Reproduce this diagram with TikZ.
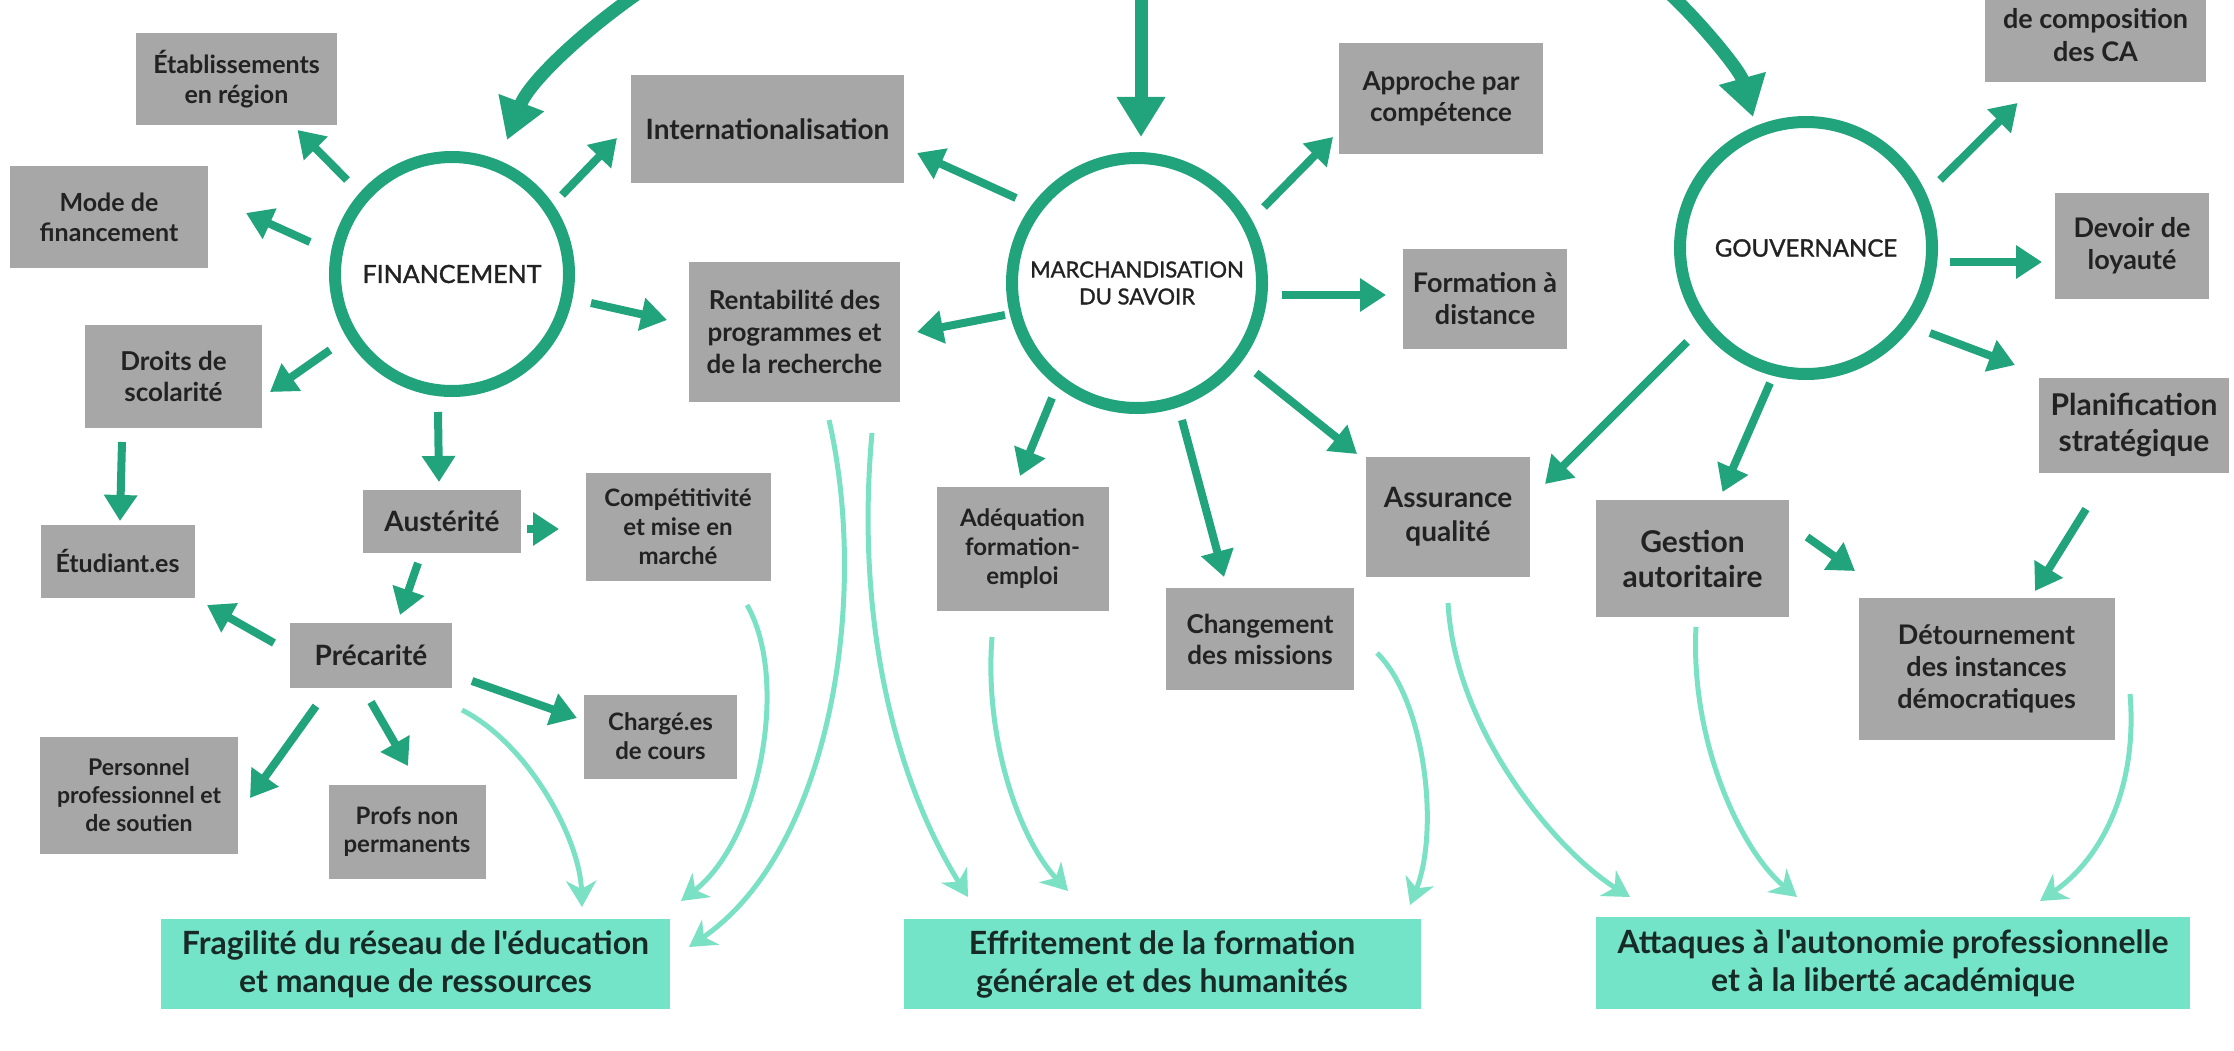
\documentclass[tikz,border=0pt]{standalone}
\usepackage{fontspec}
\setmainfont{Lato}[Ligatures=TeXOff]
\newfontfamily\ringfont{Lato}[Ligatures=TeXOff,FakeBold=1.3]
\usetikzlibrary{arrows.meta,calc}
\definecolor{dgreen}{HTML}{21A37B}
\definecolor{lgreen}{HTML}{7AE1C4}
\definecolor{boxgray}{HTML}{A7A7A7}
\definecolor{botfill}{HTML}{74E4C8}
\definecolor{txt}{HTML}{222222}
\definecolor{bottxt}{HTML}{182A26}
\newcommand\fz[2]{\fontsize{#1}{#2}\selectfont}
\tikzset{
  gbox/.style={fill=boxgray, inner sep=0pt, align=center, text=txt},
  botbox/.style={fill=botfill, inner sep=0pt, align=center, text=bottxt, font=\bfseries\fz{32}{38}},
  ring/.style={circle, draw=dgreen, line width=12pt, inner sep=0pt, align=center, text=txt},
  darr/.style={draw=dgreen, line width=8pt, -{Triangle[length=26pt,width=32pt]}},
  bigarr/.style={draw=dgreen, line width=13pt, -{Triangle[length=40pt,width=46pt]}},
  larr/.style={draw=lgreen, line width=5pt, -{Stealth[length=26pt,width=30pt,inset=8pt]}}
}
\begin{document}
\begin{tikzpicture}[x=1pt,y=-1pt]
\useasboundingbox (0,0) rectangle (2234,1051);
\fill[white] (0,0) rectangle (2234,1051);
\clip (0,0) rectangle (2234,1051);

% circles
\node[ring, minimum size=234pt, font=\ringfont\fz{25}{29}] (fin) at (452,274) {FINANCEMENT};
\node[ring, minimum size=250pt, font=\ringfont\fz{22}{27}] (march) at (1137,283) {MARCHANDISATION\\DU SAVOIR};
\node[ring, minimum size=252pt, font=\ringfont\fz{24}{28}] (gouv) at (1806,248) {GOUVERNANCE};

% gray boxes
\node[gbox, minimum width=201pt, minimum height=92pt, font=\bfseries\fz{25}{30}] (etab) at (236.5,79) {Établissements\\en région};
\node[gbox, minimum width=198pt, minimum height=102pt, font=\bfseries\fz{25}{30}] (mode) at (109,217) {Mode de\\financement};
\node[gbox, minimum width=177pt, minimum height=103pt, font=\bfseries\fz{26}{31}] (droits) at (173.5,376) {Droits de\\scolarité};
\node[gbox, minimum width=273pt, minimum height=108pt, font=\bfseries\fz{28}{34}] (intl) at (767.5,129) {Internationalisation};
\node[gbox, minimum width=211pt, minimum height=140pt, font=\bfseries\fz{26}{32}] (rent) at (794.5,331.5) {Rentabilité des\\programmes et\\de la recherche};
\node[gbox, minimum width=204pt, minimum height=111pt, font=\bfseries\fz{26}{31}] (appr) at (1441,98.5) {Approche par\\compétence};
\node[gbox, minimum width=164pt, minimum height=100pt, font=\bfseries\fz{27}{32}] (fdist) at (1485,299) {Formation à\\distance};
\node[gbox, minimum width=221pt, minimum height=94pt, font=\bfseries\fz{27}{33}] (ca) at (2095.5,35) {de composition\\des CA};
\node[gbox, minimum width=154pt, minimum height=105pt, font=\bfseries\fz{27}{32}] (dev) at (2132,246) {Devoir de\\loyauté};
\node[gbox, minimum width=190pt, minimum height=95pt, font=\bfseries\fz{30}{36}] (plan) at (2134,425) {Planification\\stratégique};
\node[gbox, minimum width=154pt, minimum height=73pt, font=\bfseries\fz{25}{30}] (etu) at (117.5,561) {Étudiant.es};
\node[gbox, minimum width=158pt, minimum height=63pt, font=\bfseries\fz{28}{34}] (aust) at (442,521) {Austérité};
\node[gbox, minimum width=185pt, minimum height=108pt, font=\bfseries\fz{24}{29}] (comp) at (678,527) {Compétitivité\\et mise en\\marché};
\node[gbox, minimum width=162pt, minimum height=65pt, font=\bfseries\fz{28}{34}] (prec) at (371,655) {Précarité};
\node[gbox, minimum width=153pt, minimum height=84pt, font=\bfseries\fz{24}{29}] (charg) at (660.5,736.5) {Chargé.es\\de cours};
\node[gbox, minimum width=198pt, minimum height=117pt, font=\bfseries\fz{23}{28}] (pers) at (139,795) {Personnel\\professionnel et\\de soutien};
\node[gbox, minimum width=157pt, minimum height=94pt, font=\bfseries\fz{24}{28}] (profs) at (407,831.5) {Profs non\\permanents};
\node[gbox, minimum width=172pt, minimum height=124pt, font=\bfseries\fz{24}{29}] (adeq) at (1022.5,548.5) {Adéquation\\formation-\\emploi};
\node[gbox, minimum width=188pt, minimum height=102pt, font=\bfseries\fz{26}{31}] (chang) at (1260,639) {Changement\\des missions};
\node[gbox, minimum width=164pt, minimum height=120pt, font=\bfseries\fz{28}{34}] (assur) at (1448,516.5) {Assurance\\qualité};
\node[gbox, minimum width=193pt, minimum height=117pt, font=\bfseries\fz{30}{35}] (gest) at (1692.5,558.5) {Gestion\\autoritaire};
\node[gbox, minimum width=256pt, minimum height=142pt, font=\bfseries\fz{27}{32}] (detour) at (1986.5,669) {Détournement\\des instances\\démocratiques};

% bottom boxes
\node[botbox, minimum width=509pt, minimum height=90pt] (frag) at (415.5,964) {Fragilité du réseau de l'éducation\\et manque de ressources};
\node[botbox, minimum width=517pt, minimum height=90pt] (effr) at (1162,964) {Effritement de la formation\\générale et des humanités};
\node[botbox, minimum width=594pt, minimum height=92pt] (attq) at (1893,963) {Attaques à l'autonomie professionnelle\\et à la liberté académique};

% big incoming arrows (free ends above the picture)
\coordinate (srcA) at (650,-15);
\coordinate (srcB) at (1141,-10);
\coordinate (srcC) at (1660,-15);
\draw[bigarr] (srcA) .. controls (590,25) and (530,80) .. ($(fin)+(55,-134)$);
\draw[bigarr] (srcB) -- ($(march)+(4,-146)$);
\draw[bigarr] (srcC) .. controls (1695,15) and (1740,70) .. ($(gouv)+(-53,-131)$);

% FINANCEMENT arrows
\draw[darr] ($(fin)+(-105,-94)$) -- ($(etab)+(61,51)$);
\draw[darr] ($(fin)+(-142,-32)$) -- ($(mode)+(137,-4)$);
\draw[darr] ($(fin)+(-122,76)$) -- ($(droits)+(96.5,16)$);
\draw[darr] ($(fin)+(110,-79)$) -- ($(intl)+(-150.5,9)$);
\draw[darr] ($(fin)+(139,29)$) -- ($(rent)+(-127.5,-11.5)$);
\draw[darr] ($(fin)+(-14,138)$) -- ($(aust)+(-3,-39)$);

% MARCHANDISATION arrows
\draw[darr] ($(march)+(-121,-85)$) -- ($(intl)+(149.5,24)$);
\draw[darr] ($(march)+(127,-76)$) -- ($(appr)+(-108,38.5)$);
\draw[darr] ($(march)+(145,12)$) -- ($(fdist)+(-99,-4)$);
\draw[darr] ($(march)+(-132,32)$) -- ($(rent)+(122.5,0.5)$);
\draw[darr] ($(march)+(-85,115)$) -- ($(adeq)+(-2.5,-72.5)$);
\draw[darr] ($(march)+(45,137)$) -- ($(chang)+(-36,-62)$);
\draw[darr] ($(march)+(119,90)$) -- ($(assur)+(-91,-62.5)$);

% GOUVERNANCE arrows
\draw[darr] ($(gouv)+(134,-68)$) -- ($(ca)+(-78,68)$);
\draw[darr] ($(gouv)+(144,14)$) -- ($(dev)+(-90,16)$);
\draw[darr] ($(gouv)+(124,85)$) -- ($(plan)+(-119,-60)$);
\draw[darr] ($(gouv)+(-119,94)$) -- ($(assur)+(97,-32.5)$);
\draw[darr] ($(gouv)+(-36,135)$) -- ($(gest)+(30,-66.5)$);

% secondary arrows
\draw[darr] ($(droits)+(-51.5,66)$) -- ($(etu)+(2.5,-40)$);
\draw[darr] ($(aust)+(85,8)$) -- ($(comp)+(-119,2)$);
\draw[darr] ($(aust)+(-24,42)$) -- ($(prec)+(29,-40)$);
\draw[darr] ($(prec)+(-97,-12)$) -- ($(etu)+(89.5,44)$);
\draw[darr] ($(prec)+(101,26)$) -- ($(charg)+(-83.5,-18.5)$);
\draw[darr] ($(prec)+(-55,51)$) -- ($(pers)+(111,3)$);
\draw[darr] ($(prec)+(0,47)$) -- ($(profs)+(1,-65.5)$);
\draw[darr] ($(gest)+(114.5,-21.5)$) -- ($(detour)+(-131.5,-98)$);
\draw[darr] ($(plan)+(-48,84)$) -- ($(detour)+(48.5,-78)$);

% light curved arrows to outcomes
\draw[larr] ($(prec)+(91,55)$) .. controls (530,745) and (580,840) .. ($(frag)+(166.5,-57)$);
\draw[larr] ($(comp)+(69,78)$) .. controls (790,680) and (760,840) .. ($(frag)+(265.5,-63)$);
\draw[larr] ($(rent)+(34.5,88.5)$) .. controls (870,600) and (830,850) .. ($(frag)+(273.5,-17)$);
\draw[larr] ($(rent)+(77.5,101.5)$) .. controls (855,620) and (895,780) .. ($(effr)+(-194,-67)$);
\draw[larr] ($(adeq)+(-30.5,88.5)$) .. controls (984,740) and (1020,840) .. ($(effr)+(-94,-73)$);
\draw[larr] ($(chang)+(117,14)$) .. controls (1425,700) and (1440,830) .. ($(effr)+(248,-59)$);
\draw[larr] ($(assur)+(0,86.5)$) .. controls (1455,730) and (1555,850) .. ($(attq)+(-263,-66)$);
\draw[larr] ($(gest)+(3.5,68.5)$) .. controls (1690,740) and (1740,850) .. ($(attq)+(-96,-66)$);
\draw[larr] ($(detour)+(143.5,25)$) .. controls (2138,790) and (2100,860) .. ($(attq)+(147,-62)$);
\end{tikzpicture}
\end{document}
